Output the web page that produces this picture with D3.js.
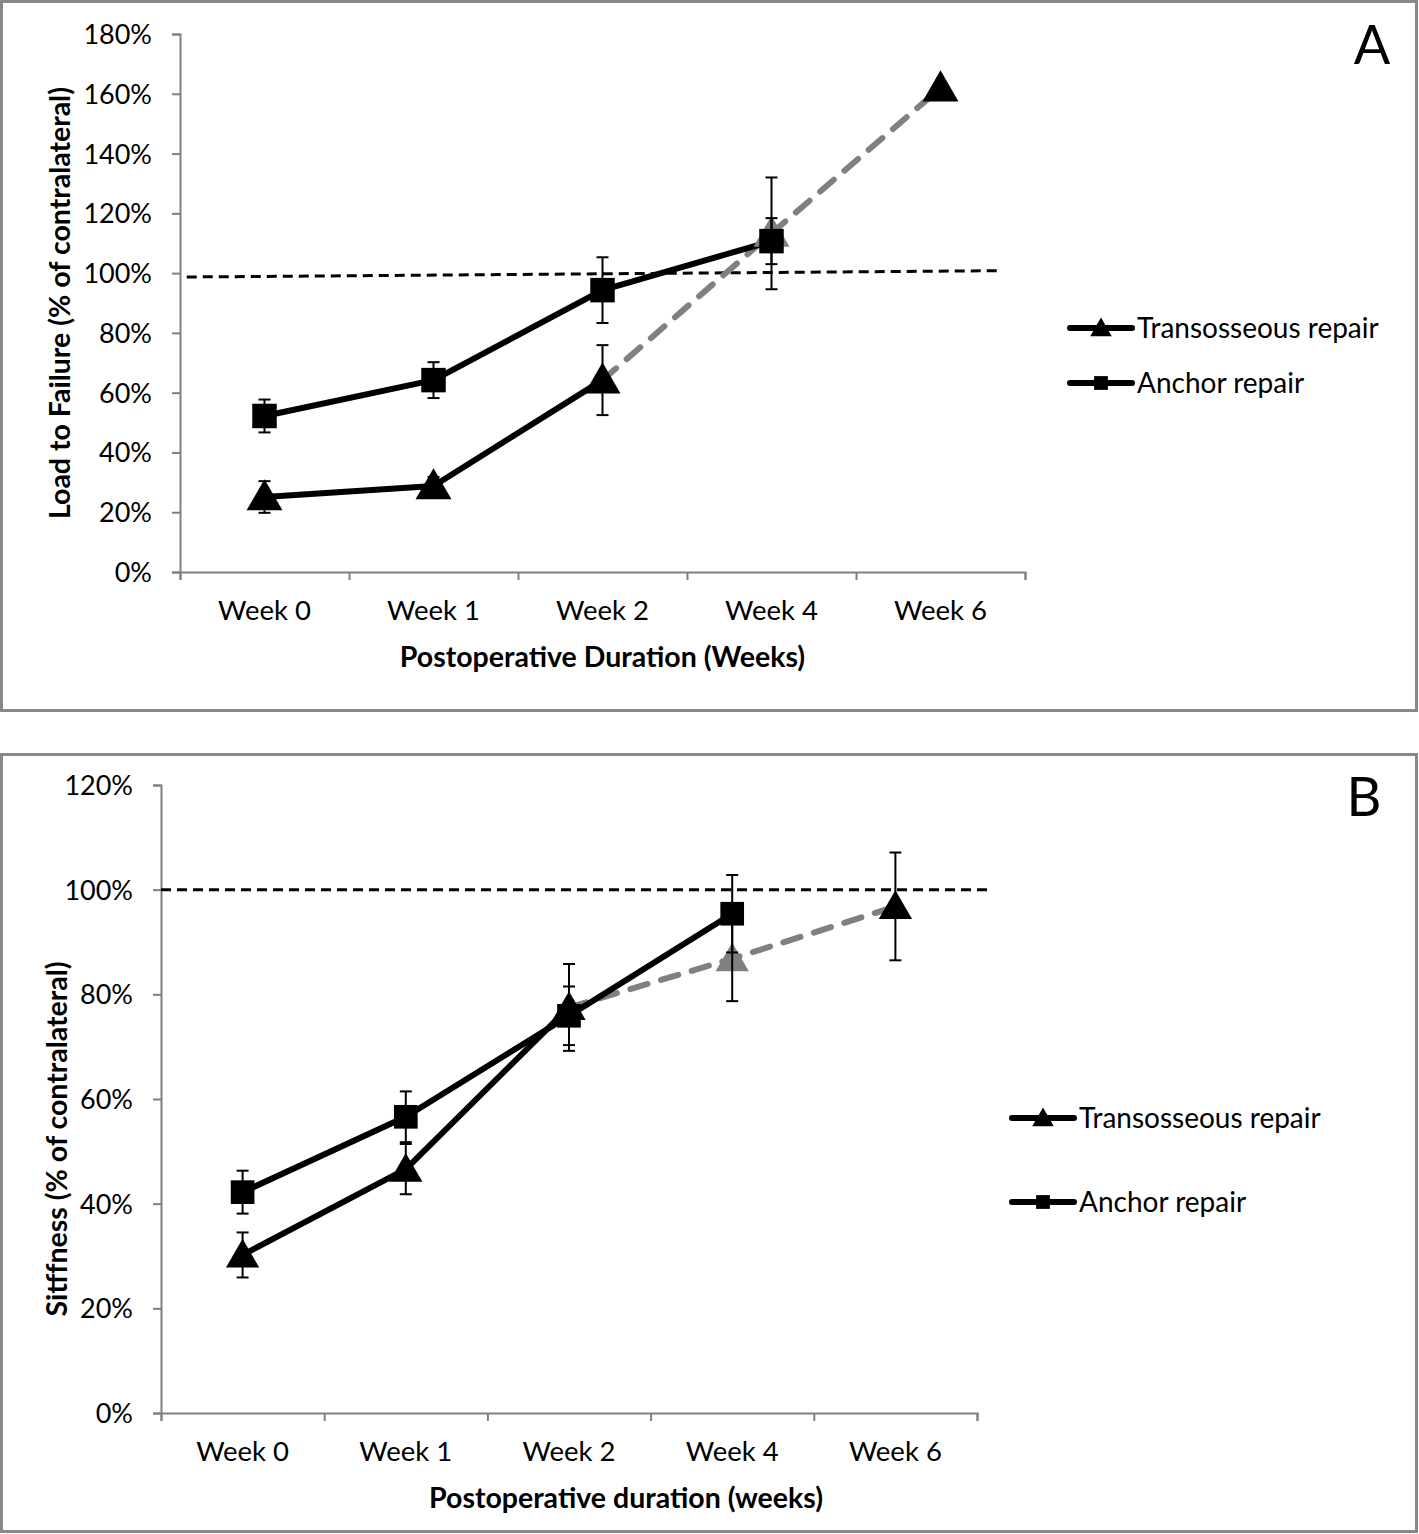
<!DOCTYPE html>
<html><head><meta charset="utf-8">
<script src="https://cdn.jsdelivr.net/npm/d3@7"></script>
<style>body{margin:0;background:#fff}svg{display:block}text{font-family:Lato,"Open Sans",sans-serif;fill:#000}</style>
</head><body>
<script>
// ---------- data ----------
const categories = ["Week 0", "Week 1", "Week 2", "Week 4", "Week 6"];
const seriesNames = ["Transosseous repair", "Anchor repair"];

// Panel A: Load to failure (% of contralateral)
const ticksA = [0, 20, 40, 60, 80, 100, 120, 140, 160, 180];
const transA = [25.1, 28.8, 64.2, 113.3, 161.9];
const transAErr = [5.3, 3, 11.7, 18.7, null];
const anchorA = [52.2, 64.2, 94.3, 110.7, null];
const anchorAErr = [5.5, 6, 11, 7.7, null];
const refA = [98.7, 100.8];

// Panel B: Stiffness (% of contralateral)
const ticksB = [0, 20, 40, 60, 80, 100, 120];
const transB = [30.2, 46.6, 77.5, 86.8, 96.8];
const transBErr = [4.3, 4.8, 8.3, 8.1, 10.3];
const anchorB = [42.2, 56.6, 75.9, 95.4, null];
const anchorBErr = [4.1, 4.85, 5.6, 7.4, null];
const refB = [100, 100];

// ---------- drawing ----------
const W = 1419, H = 1534;
const svg = d3.select("body").append("svg").attr("width", W).attr("height", H);

// panel borders
svg.append("rect").attr("x", 1.5).attr("y", 1.5).attr("width", 1415).attr("height", 709)
  .attr("fill", "none").attr("stroke", "#888").attr("stroke-width", 3);
svg.append("rect").attr("x", 1.5).attr("y", 754.5).attr("width", 1415).attr("height", 777)
  .attr("fill", "none").attr("stroke", "#888").attr("stroke-width", 3);

const GRAY = "#808080";
const dashStart = 2;   // dashed (projected) segment begins at Week 2
const grayPoint = 3;   // Week 4 transosseous marker shown in gray

function panel(o) {
  const g = svg.append("g");
  const x = d3.scaleLinear().domain([-0.5, categories.length - 0.5]).range([o.x0, o.x1]);
  const y = d3.scaleLinear().domain([0, o.ymax]).range([o.y0, o.y1]);

  // y axis
  const ya = d3.axisLeft(y).tickValues(o.ticks).tickSize(8).tickFormat(d => d + "%");
  const yg = g.append("g").attr("transform", `translate(${o.x0},0)`).call(ya);
  yg.select(".domain").attr("stroke", GRAY).attr("stroke-width", 2);
  yg.selectAll(".tick line").attr("stroke", GRAY).attr("stroke-width", 2);
  yg.selectAll(".tick text").attr("font-size", 27).attr("x", -28).attr("dy", "0.35em")
    .style("font-family", "Lato,sans-serif");

  // x axis (tick marks at category boundaries)
  const bounds = d3.range(categories.length + 1).map(i => i - 0.5);
  const xa = d3.axisBottom(x).tickValues(bounds).tickSize(8).tickFormat("");
  const xg = g.append("g").attr("transform", `translate(0,${o.y0})`).call(xa);
  xg.select(".domain").attr("stroke", GRAY).attr("stroke-width", 2);
  xg.selectAll(".tick line").attr("stroke", GRAY).attr("stroke-width", 2);
  g.selectAll(".xl").data(categories).join("text")
    .attr("x", (d, i) => x(i)).attr("y", o.y0 + 38).attr("dy", "0.35em")
    .attr("text-anchor", "middle").attr("font-size", 27.5).text(d => d);

  // axis titles
  g.append("text").attr("x", (o.x0 + o.x1) / 2 + o.xtOff).attr("y", o.y0 + 85).attr("dy", "0.35em")
    .attr("text-anchor", "middle").attr("font-size", 28.5).attr("font-weight", "bold").text(o.xtitle);
  g.append("text").attr("transform", `translate(${o.ytx},${(o.y0 + o.y1) / 2 + o.ytOff}) rotate(-90)`)
    .attr("dy", "0.35em").attr("text-anchor", "middle").attr("font-size", 28.5)
    .attr("font-weight", "bold").text(o.ytitle);

  // panel letter
  g.append("text").attr("x", o.letterX).attr("y", o.letterY).attr("dy", "0.35em")
    .attr("text-anchor", "middle").attr("font-size", 54).text(o.letter);

  // reference line
  g.append("line").attr("x1", x(o.refX[0])).attr("x2", x(o.refX[1]))
    .attr("y1", y(o.ref[0])).attr("y2", y(o.ref[1]))
    .attr("stroke", "#000").attr("stroke-width", 3).attr("stroke-dasharray", "10,6");

  const line = d3.line().defined(d => d.v != null).x(d => x(d.i)).y(d => y(d.v));
  const tPts = o.trans.map((v, i) => ({ i, v }));
  const aPts = o.anchor.map((v, i) => ({ i, v }));

  // projected (dashed gray) part of transosseous
  g.append("path").attr("d", line(tPts.slice(dashStart))).attr("fill", "none")
    .attr("stroke", GRAY).attr("stroke-width", 6).attr("stroke-linecap", "round")
    .attr("stroke-dasharray", "18,14");
  // solid transosseous
  g.append("path").attr("d", line(tPts.slice(0, dashStart + 1))).attr("fill", "none")
    .attr("stroke", "#000").attr("stroke-width", 6).attr("stroke-linejoin", "round");
  // anchor
  g.append("path").attr("d", line(aPts.filter(d => d.v != null))).attr("fill", "none")
    .attr("stroke", "#000").attr("stroke-width", 6).attr("stroke-linejoin", "round");

  const tri = d3.symbol().type(d3.symbolTriangle).size(o.triSize);
  const sq = d3.symbol().type(d3.symbolSquare).size(o.sqSize);

  function errBars(pts, errs) {
    pts.forEach((d, k) => {
      const e = errs[k];
      if (d.v == null || e == null) return;
      const cx = x(d.i), yt = y(d.v + e), yb = y(d.v - e);
      g.append("line").attr("x1", cx).attr("x2", cx).attr("y1", yt).attr("y2", yb)
        .attr("stroke", "#000").attr("stroke-width", 2);
      [yt, yb].forEach(yy => g.append("line").attr("x1", cx - 6).attr("x2", cx + 6)
        .attr("y1", yy).attr("y2", yy).attr("stroke", "#000").attr("stroke-width", 2));
    });
  }
  // transosseous markers
  g.selectAll(".tm").data(tPts).join("path")
    .attr("d", tri).attr("transform", d => `translate(${x(d.i)},${y(d.v) + o.triOff})`)
    .attr("fill", d => d.i === grayPoint ? GRAY : "#000");
  errBars(tPts, o.transErr);
  // anchor markers
  g.selectAll(".am").data(aPts.filter(d => d.v != null)).join("path")
    .attr("d", sq).attr("transform", d => `translate(${x(d.i)},${y(d.v)})`).attr("fill", "#000");
  errBars(aPts, o.anchorErr);

  // legend
  [0, 1].forEach(k => {
    const ly = o.legY[k];
    g.append("line").attr("x1", o.legX).attr("x2", o.legX + 62).attr("y1", ly).attr("y2", ly)
      .attr("stroke", "#000").attr("stroke-width", 6).attr("stroke-linecap", "round");
    g.append("path").attr("d", k === 0 ? d3.symbol().type(d3.symbolTriangle).size(200)()
      : d3.symbol().type(d3.symbolSquare).size(190)())
      .attr("transform", `translate(${o.legX + 31},${ly + (k === 0 ? 2 : 0)})`).attr("fill", "#000");
    g.append("text").attr("x", o.legX + 67).attr("y", ly).attr("dy", "0.35em")
      .attr("font-size", 28).text(seriesNames[k]);
  });
}

panel({
  x0: 180, x1: 1025, y0: 572, y1: 34, ymax: 180, ticks: ticksA,
  trans: transA, transErr: transAErr, anchor: anchorA, anchorErr: anchorAErr,
  ref: refA, refX: [-0.46, 4.35],
  xtitle: "Postoperative Duration (Weeks)", ytitle: "Load to Failure (% of contralateral)", ytx: 60,
  xtOff: 0, ytOff: 0,
  letter: "A", letterX: 1372, letterY: 45,
  legX: 1070, legY: [328, 383],
  triSize: 560, sqSize: 600, triOff: 3
});
panel({
  x0: 161, x1: 977, y0: 1413, y1: 785, ymax: 120, ticks: ticksB,
  trans: transB, transErr: transBErr, anchor: anchorB, anchorErr: anchorBErr,
  ref: refB, refX: [-0.5, 4.57],
  xtitle: "Postoperative duration (weeks)", ytitle: "Sitffness (% of contralateral)", ytx: 57,
  xtOff: 57, ytOff: 40,
  letter: "B", letterX: 1364, letterY: 797,
  legX: 1012, legY: [1118, 1202],
  triSize: 480, sqSize: 560, triOff: 3
});
</script>
</body></html>
